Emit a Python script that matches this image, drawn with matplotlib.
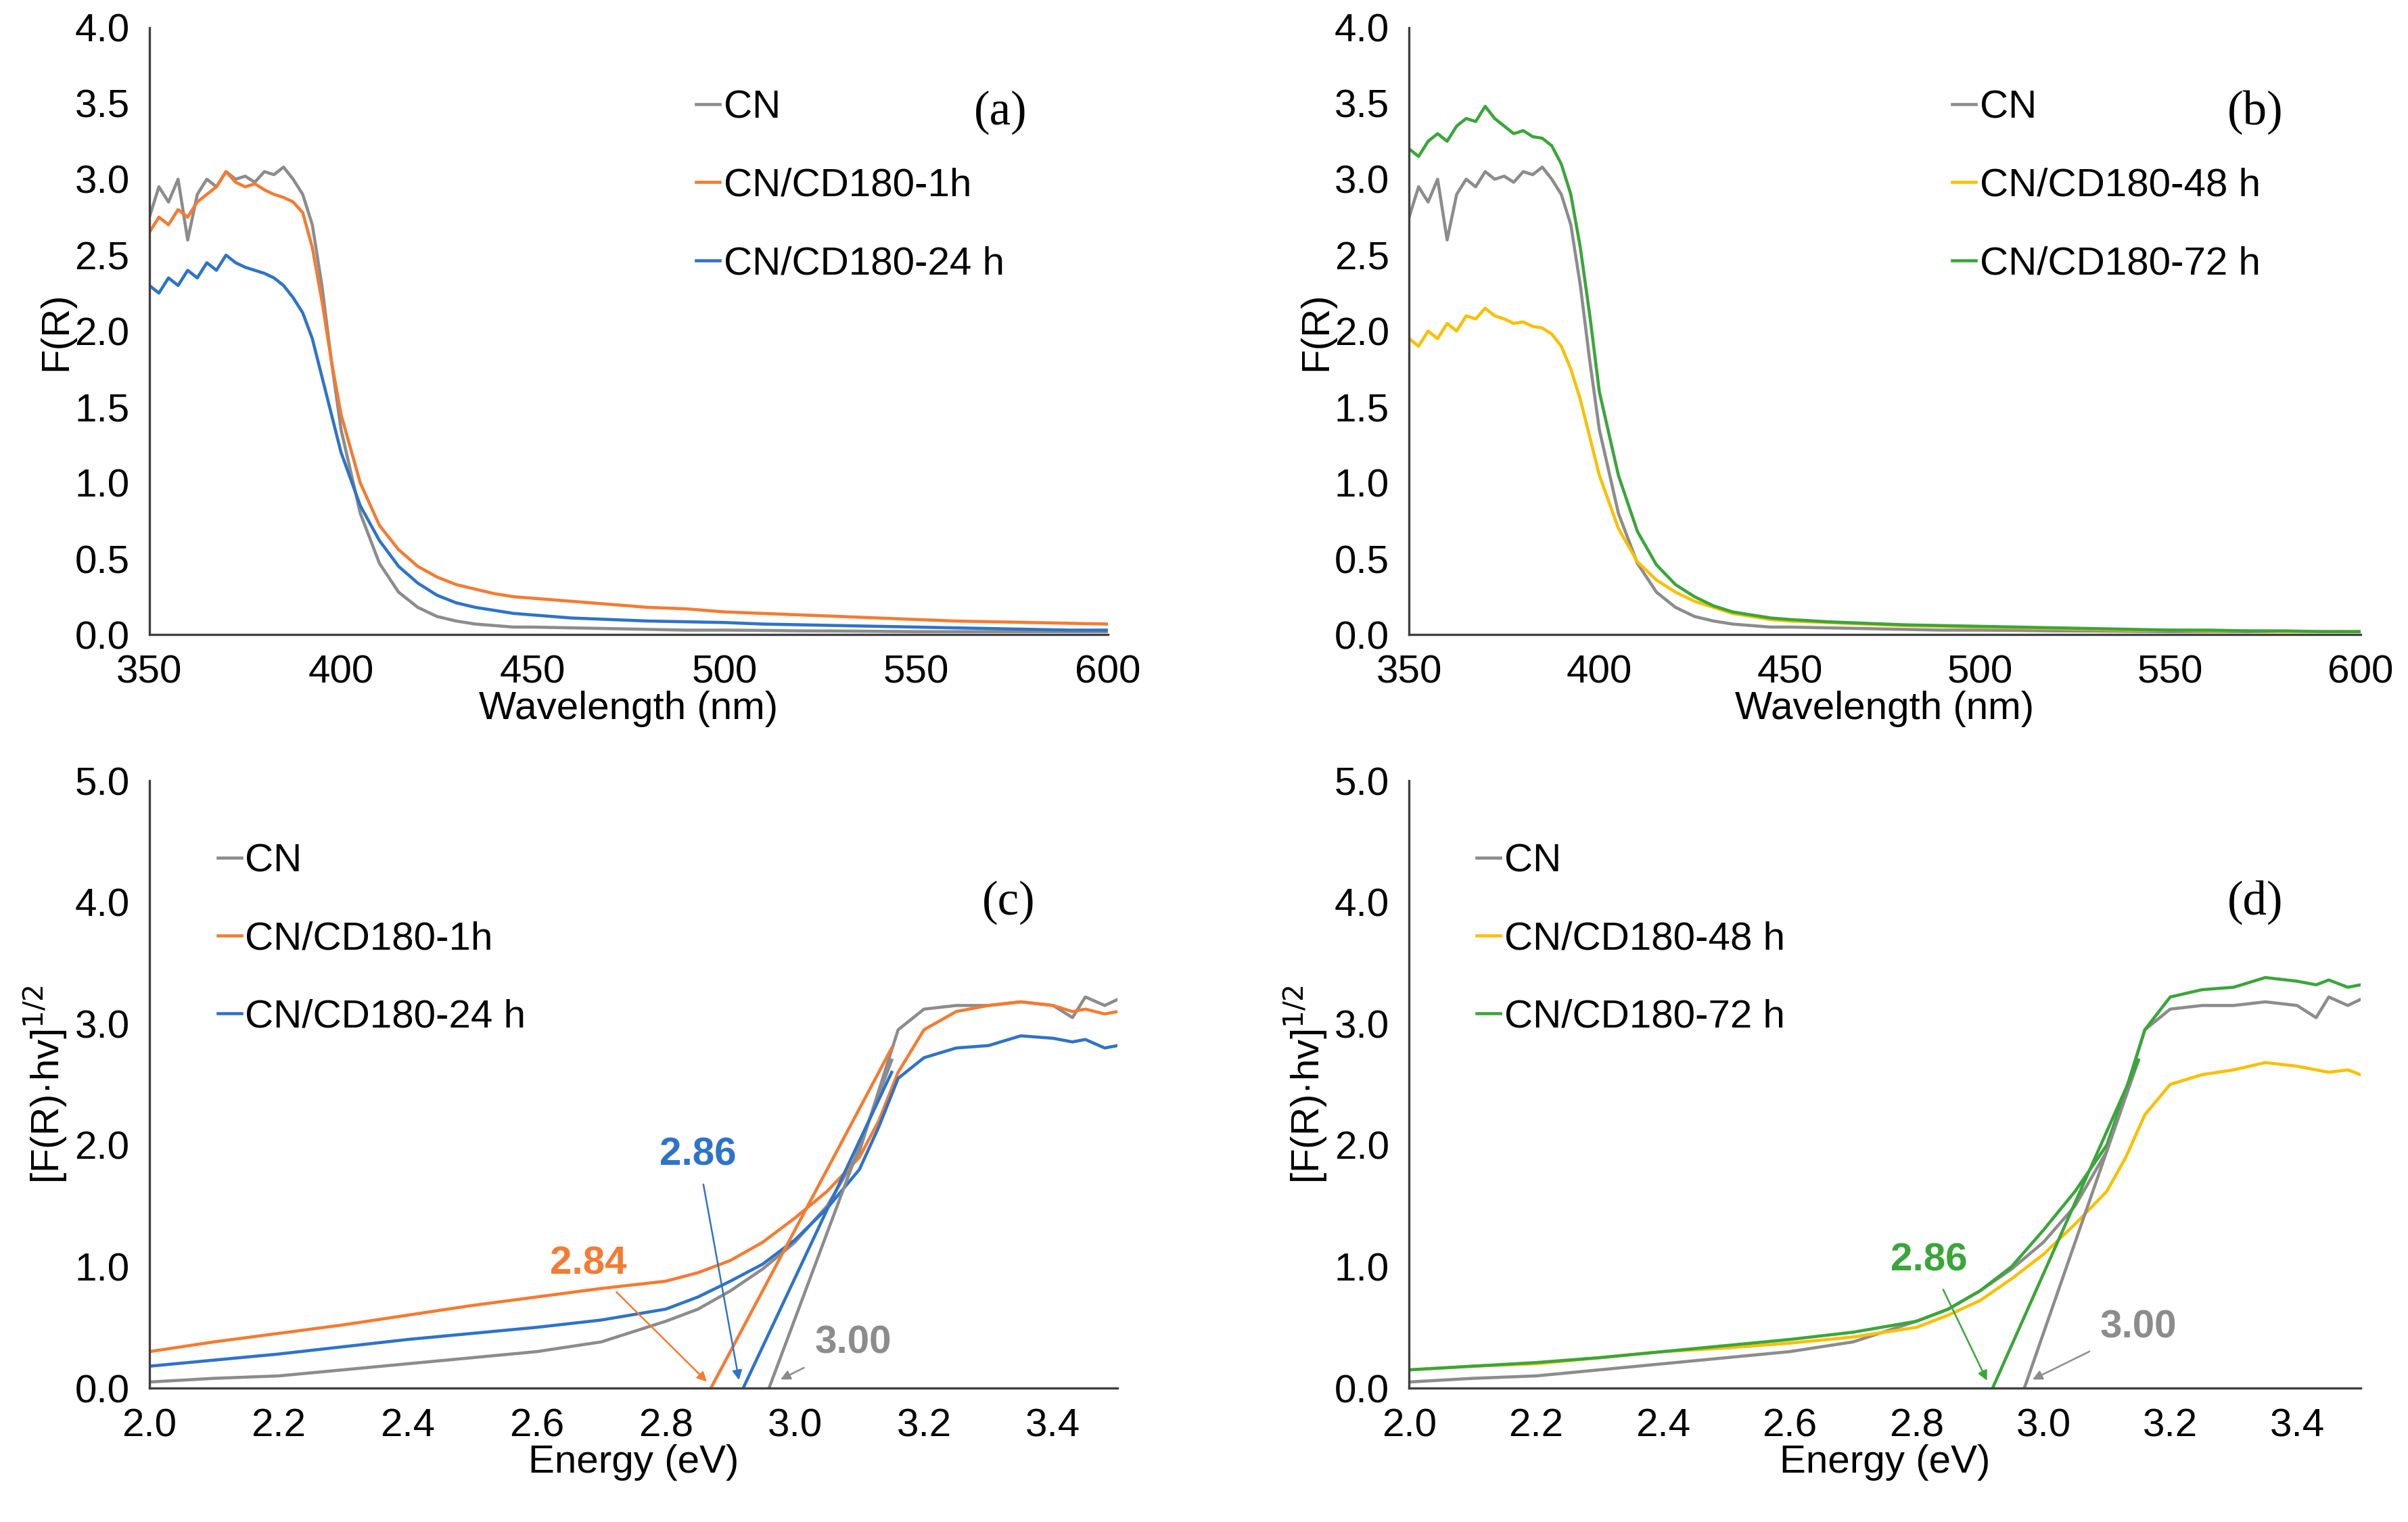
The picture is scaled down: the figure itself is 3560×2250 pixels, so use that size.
import matplotlib.pyplot as plt

plt.rcParams['font.family'] = ['Liberation Sans', 'DejaVu Sans']

# ---- UV-vis spectra (F(R) vs wavelength) ----
wl = [350, 352.5, 355, 357.5, 360, 362.5, 365, 367.5, 370, 372.5, 375, 377.5, 380, 382.5,
      385, 387.5, 390, 392.5, 395, 397.5,
      400, 405, 410, 415, 420, 425, 430, 435, 440, 445, 450,
      460, 470, 480, 490, 500, 510, 520, 530, 540, 550, 560, 570, 580, 590, 600]
fr_cn = [2.75, 2.95, 2.85, 3.0, 2.6, 2.9, 3.0, 2.95, 3.05, 3.0, 3.02, 2.98, 3.05, 3.03,
         3.08, 3.0, 2.9, 2.7, 2.3, 1.8,
         1.35, 0.8, 0.47, 0.28, 0.18, 0.12, 0.09, 0.07, 0.06, 0.05, 0.05,
         0.045, 0.04, 0.035, 0.03, 0.03, 0.028, 0.025, 0.024, 0.022, 0.02, 0.02, 0.02, 0.02, 0.02, 0.02]
fr_1h = [2.65, 2.75, 2.7, 2.8, 2.75, 2.85, 2.9, 2.95, 3.05, 2.98, 2.95, 2.97, 2.93, 2.9,
         2.88, 2.85, 2.78, 2.55, 2.2, 1.8,
         1.45, 1.0, 0.72, 0.56, 0.45, 0.38, 0.33, 0.3, 0.27, 0.25, 0.24,
         0.22, 0.2, 0.18, 0.17, 0.15, 0.14, 0.13, 0.12, 0.11, 0.1, 0.09, 0.085, 0.08, 0.075, 0.07]
fr_24h = [2.3, 2.25, 2.35, 2.3, 2.4, 2.35, 2.45, 2.4, 2.5, 2.45, 2.42, 2.4, 2.38, 2.35,
          2.3, 2.22, 2.12, 1.95, 1.7, 1.45,
          1.2, 0.85, 0.62, 0.45, 0.34, 0.26, 0.21, 0.18, 0.16, 0.14, 0.13,
          0.11, 0.1, 0.09, 0.085, 0.08, 0.07, 0.065, 0.06, 0.055, 0.05, 0.045, 0.04, 0.035, 0.03, 0.03]
fr_48h = [1.95, 1.9, 2.0, 1.95, 2.05, 2.0, 2.1, 2.08, 2.15, 2.1, 2.08, 2.05, 2.06, 2.03,
          2.02, 1.98, 1.9, 1.75, 1.55, 1.3,
          1.05, 0.7, 0.48, 0.36, 0.28, 0.22, 0.18, 0.14, 0.12, 0.1, 0.09,
          0.08, 0.07, 0.06, 0.055, 0.05, 0.045, 0.04, 0.035, 0.03, 0.03, 0.025, 0.025, 0.02, 0.02, 0.02]
fr_72h = [3.2, 3.15, 3.25, 3.3, 3.25, 3.35, 3.4, 3.38, 3.48, 3.4, 3.35, 3.3, 3.32, 3.28,
          3.27, 3.22, 3.1, 2.9, 2.55, 2.1,
          1.6, 1.05, 0.68, 0.46, 0.33, 0.25, 0.19, 0.15, 0.13, 0.11, 0.1,
          0.085, 0.075, 0.065, 0.06, 0.055, 0.05, 0.045, 0.04, 0.035, 0.03, 0.03, 0.025, 0.025, 0.02, 0.02]

# ---- Tauc plots ----
ev = [2.0, 2.1, 2.2, 2.3, 2.4, 2.5, 2.6, 2.7, 2.8, 2.85, 2.9, 2.95, 3.0, 3.05, 3.1, 3.13,
      3.16, 3.2, 3.25, 3.3, 3.35, 3.4, 3.43, 3.45, 3.48, 3.5]
t_cn = [0.05, 0.08, 0.1, 0.15, 0.2, 0.25, 0.3, 0.38, 0.55, 0.65, 0.8, 0.98, 1.2, 1.5, 1.95, 2.45,
        2.95, 3.12, 3.15, 3.15, 3.18, 3.15, 3.05, 3.22, 3.15, 3.2]
t_1h = [0.3, 0.38, 0.45, 0.52, 0.6, 0.68, 0.75, 0.82, 0.88, 0.95, 1.05, 1.2, 1.4, 1.62, 1.9, 2.2,
        2.6, 2.95, 3.1, 3.15, 3.18, 3.15, 3.1, 3.12, 3.08, 3.1]
t_24h = [0.18, 0.23, 0.28, 0.34, 0.4, 0.45, 0.5, 0.56, 0.65, 0.75, 0.88, 1.02, 1.22, 1.48, 1.8, 2.15,
         2.55, 2.72, 2.8, 2.82, 2.9, 2.88, 2.85, 2.87, 2.8, 2.82]
t_48h = [0.15, 0.18, 0.2, 0.25, 0.3, 0.33, 0.37, 0.42, 0.5, 0.6, 0.72, 0.9, 1.1, 1.35, 1.62, 1.9,
         2.25, 2.5, 2.58, 2.62, 2.68, 2.65, 2.62, 2.6, 2.62, 2.58]
t_72h = [0.15, 0.18, 0.21, 0.25, 0.3, 0.35, 0.4, 0.46, 0.55, 0.65, 0.8, 1.0, 1.3, 1.62, 2.0, 2.45,
         2.95, 3.22, 3.28, 3.3, 3.38, 3.35, 3.32, 3.36, 3.3, 3.32]

# tangent line endpoints (x0, x1, y1) with y0 = 0
tan_c = {'CN': (2.96, 3.15, 2.7), '1h': (2.87, 3.15, 2.8), '24h': (2.92, 3.15, 2.6)}
tan_d = {'CN': (2.97, 3.15, 2.7), '72h': (2.92, 3.15, 2.7)}

GRAY, ORANGE, BLUE, YELLOW, GREEN = '#8c8c8c', '#f47b32', '#2f73c9', '#f9c000', '#3aa63a'

fig = plt.figure(figsize=(11.87, 7.5), dpi=300)
axa = fig.add_axes([0.062, 0.583, 0.398, 0.399])
axb = fig.add_axes([0.585, 0.583, 0.395, 0.399])
axc = fig.add_axes([0.062, 0.088, 0.402, 0.399])
axd = fig.add_axes([0.585, 0.088, 0.395, 0.399])

FS = 14


def style(ax):
    for s in ['top', 'right']:
        ax.spines[s].set_visible(False)
    for s in ['left', 'bottom']:
        ax.spines[s].set_color('#404040')
        ax.spines[s].set_linewidth(0.8)
    ax.tick_params(labelsize=FS, length=0, pad=7)


def leg(ax, x, y):
    ax.legend(loc='upper left', bbox_to_anchor=(x, y), frameon=False, fontsize=FS,
              handlelength=0.6, handletextpad=0.1, labelspacing=1.05, borderpad=0)


lw = 1.1
axa.plot(wl, fr_cn, color=GRAY, lw=lw, label='CN')
axa.plot(wl, fr_1h, color=ORANGE, lw=lw, label='CN/CD180-1h')
axa.plot(wl, fr_24h, color=BLUE, lw=lw, label='CN/CD180-24 h')
axb.plot(wl, fr_cn, color=GRAY, lw=lw, label='CN')
axb.plot(wl, fr_48h, color=YELLOW, lw=lw, label='CN/CD180-48 h')
axb.plot(wl, fr_72h, color=GREEN, lw=lw, label='CN/CD180-72 h')
for ax, tag in [(axa, '(a)'), (axb, '(b)')]:
    style(ax)
    ax.set_xlim(350, 600)
    ax.set_ylim(0, 4)
    ax.set_yticks([i * 0.5 for i in range(9)])
    ax.set_yticklabels([f'{i * 0.5:.1f}' for i in range(9)])
    ax.set_xlabel('Wavelength (nm)', fontsize=FS, labelpad=0)
    ax.set_ylabel('F(R)', fontsize=FS, labelpad=0)
    ax.text(0.86, 0.84, tag, transform=ax.transAxes, fontsize=17, family='Liberation Serif')
    leg(ax, 0.55, 0.93)

axc.plot(ev, t_cn, color=GRAY, lw=lw, label='CN')
axc.plot(ev, t_1h, color=ORANGE, lw=lw, label='CN/CD180-1h')
axc.plot(ev, t_24h, color=BLUE, lw=lw, label='CN/CD180-24 h')
for k, c in [('CN', GRAY), ('1h', ORANGE), ('24h', BLUE)]:
    x0, x1, y1 = tan_c[k]
    axc.plot([x0, x1], [0, y1], color=c, lw=lw)
axd.plot(ev, t_cn, color=GRAY, lw=lw, label='CN')
axd.plot(ev, t_48h, color=YELLOW, lw=lw, label='CN/CD180-48 h')
axd.plot(ev, t_72h, color=GREEN, lw=lw, label='CN/CD180-72 h')
for k, c in [('CN', GRAY), ('72h', GREEN)]:
    x0, x1, y1 = tan_d[k]
    axd.plot([x0, x1], [0, y1], color=c, lw=lw)

for ax, tag in [(axc, '(c)'), (axd, '(d)')]:
    style(ax)
    ax.set_xlim(2.0, 3.5)
    ax.set_ylim(0, 5)
    ax.set_xticks([2.0 + 0.2 * i for i in range(8)])
    ax.set_xticklabels([f'{2.0 + 0.2 * i:.1f}' for i in range(8)])
    ax.set_yticks(range(6))
    ax.set_yticklabels([f'{i:.1f}' for i in range(6)])
    ax.set_xlabel('Energy (eV)', fontsize=FS, labelpad=0)
    ax.set_ylabel('[F(R)·hv]$^{1/2}$', fontsize=FS, labelpad=2)
    ax.text(0.86, 0.78, tag, transform=ax.transAxes, fontsize=17, family='Liberation Serif')
    leg(ax, 0.05, 0.93)


def note(ax, txt, c, xy, xyt):
    ax.annotate(txt, xy=xy, xytext=xyt, color=c, fontsize=FS, fontweight='bold',
                ha='center', va='center',
                arrowprops=dict(arrowstyle='-|>', color=c, lw=0.6, mutation_scale=7))


note(axc, '2.84', ORANGE, (2.87, 0.02), (2.68, 1.02))
note(axc, '2.86', BLUE, (2.915, 0.02), (2.85, 1.92))
note(axc, '3.00', GRAY, (2.97, 0.05), (3.09, 0.37))
note(axd, '2.86', GREEN, (2.915, 0.02), (2.82, 1.05))
note(axd, '3.00', GRAY, (2.975, 0.05), (3.15, 0.5))

fig.savefig('out.png', dpi=300)
